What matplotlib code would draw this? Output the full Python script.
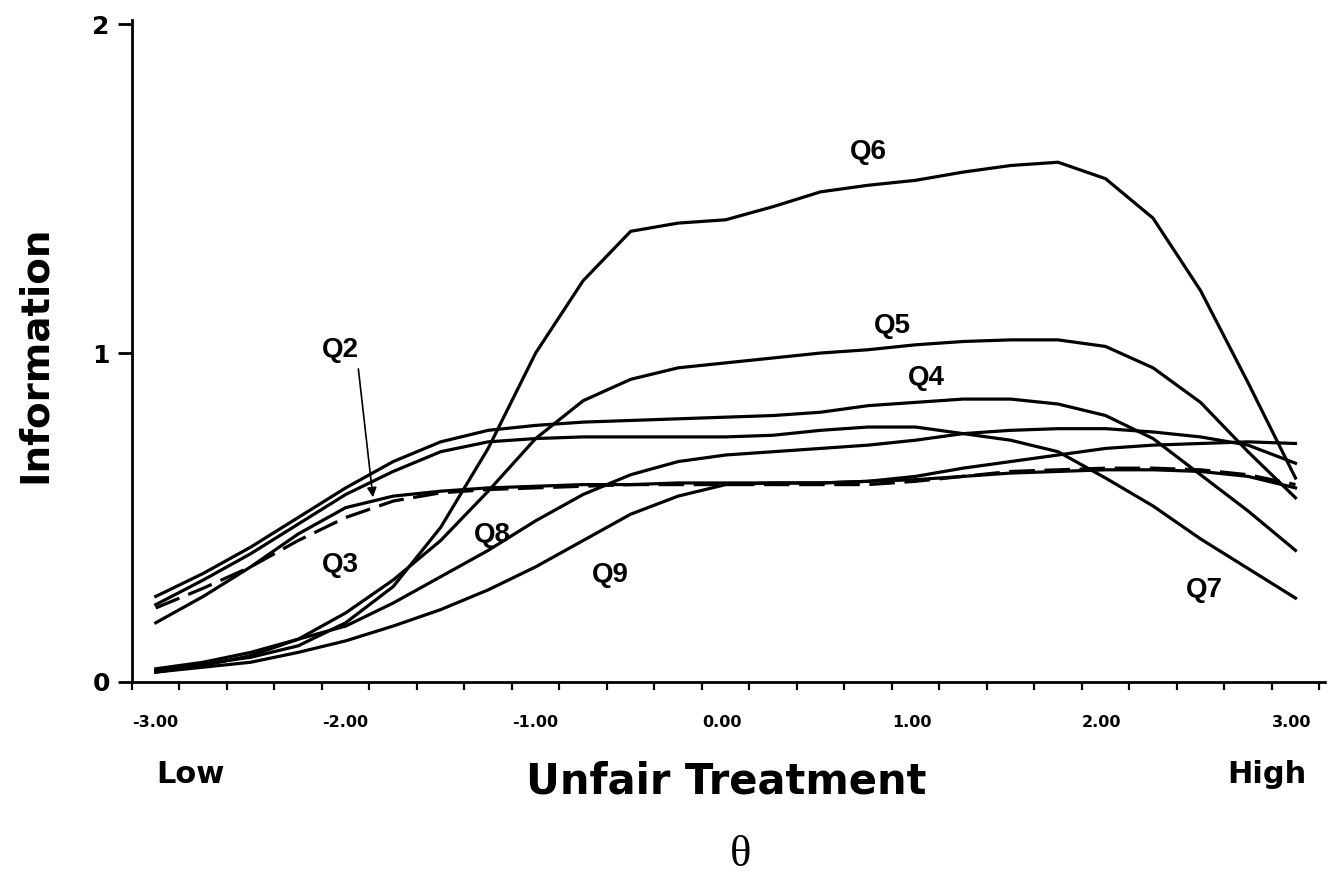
import matplotlib
matplotlib.use("Agg")
import matplotlib.pyplot as plt
from matplotlib.ticker import MultipleLocator, FixedLocator

theta = [-2.875, -2.625, -2.375, -2.125, -1.875, -1.625, -1.375, -1.125, -0.875,
         -0.625, -0.375, -0.125, 0.125, 0.375, 0.625, 0.875, 1.125, 1.375, 1.625,
         1.875, 2.125, 2.375, 2.625, 2.875, 3.125]

q2 = [0.18, 0.26, 0.35, 0.45, 0.53, 0.565, 0.58, 0.59, 0.595, 0.60, 0.60, 0.605, 0.605,
      0.605, 0.605, 0.61, 0.615, 0.625, 0.635, 0.64, 0.645, 0.645, 0.64, 0.625, 0.59]
q3 = [0.225, 0.285, 0.35, 0.43, 0.50, 0.55, 0.575, 0.585, 0.59, 0.595, 0.60, 0.60, 0.60,
      0.60, 0.60, 0.60, 0.61, 0.625, 0.64, 0.645, 0.65, 0.65, 0.645, 0.63, 0.60]
q4 = [0.26, 0.33, 0.41, 0.50, 0.59, 0.67, 0.73, 0.765, 0.78, 0.79, 0.795, 0.80, 0.805,
      0.81, 0.82, 0.84, 0.85, 0.86, 0.86, 0.845, 0.81, 0.74, 0.63, 0.52, 0.40]
q5 = [0.03, 0.05, 0.08, 0.13, 0.21, 0.31, 0.43, 0.58, 0.74, 0.855, 0.92, 0.955, 0.97,
      0.985, 1.0, 1.01, 1.025, 1.035, 1.04, 1.04, 1.02, 0.955, 0.85, 0.70, 0.56]
q6 = [0.035, 0.055, 0.075, 0.11, 0.18, 0.29, 0.47, 0.71, 1.0, 1.22, 1.37, 1.395, 1.405,
      1.445, 1.49, 1.51, 1.525, 1.55, 1.57, 1.58, 1.53, 1.41, 1.19, 0.91, 0.62]
q7 = [0.235, 0.31, 0.39, 0.48, 0.57, 0.64, 0.70, 0.73, 0.74, 0.745, 0.745, 0.745, 0.745,
      0.75, 0.765, 0.775, 0.775, 0.755, 0.735, 0.70, 0.62, 0.535, 0.435, 0.345, 0.255]
q8 = [0.04, 0.06, 0.09, 0.13, 0.17, 0.24, 0.32, 0.40, 0.49, 0.57, 0.63, 0.67, 0.69,
      0.70, 0.71, 0.72, 0.735, 0.755, 0.765, 0.77, 0.77, 0.76, 0.745, 0.72, 0.665]
q9 = [0.03, 0.045, 0.06, 0.09, 0.125, 0.17, 0.22, 0.28, 0.35, 0.43, 0.51, 0.565, 0.60,
      0.605, 0.605, 0.61, 0.625, 0.65, 0.67, 0.69, 0.71, 0.72, 0.725, 0.73, 0.725]

x_major = [-3, -2, -1, 0, 1, 2, 3]
x_labels = ["-3.00", "-2.00", "-1.00", "0.00", "1.00", "2.00", "3.00"]
y_major = [0, 1, 2]
y_labels = ["0", "1", "2"]

fig = plt.figure(figsize=(13.32, 8.75), dpi=100)
ax = fig.add_axes([0.0991, 0.2206, 0.8956, 0.7564])

lw = 2.3
for s in (q2, q4, q5, q6, q7, q8, q9):
    ax.plot(theta, s, color="black", lw=lw, solid_joinstyle="round")
ax.plot(theta, q3, color="black", lw=lw, dashes=(8, 3))

ax.set_xlim(-3, 3.28)
ax.set_ylim(0, 2.012)

for sp in ("top", "right"):
    ax.spines[sp].set_visible(False)
for sp in ("left", "bottom"):
    ax.spines[sp].set_linewidth(2)

ax.xaxis.set_major_locator(FixedLocator(x_major))
ax.xaxis.set_minor_locator(MultipleLocator(0.25))
ax.set_xticklabels(x_labels)
ax.tick_params(axis="x", which="both", direction="out", length=6, width=1.6)
ax.tick_params(axis="x", which="major", pad=18)
for t in ax.get_xticklabels():
    t.set_ha("left")
    t.set_fontsize(11.5)
    t.set_fontweight("heavy")
    t.set_family(["Liberation Sans Narrow", "DejaVu Sans"])

ax.set_yticks(y_major)
ax.set_yticklabels(y_labels)
ax.tick_params(axis="y", which="major", direction="out", length=10, width=2, pad=6)
for t in ax.get_yticklabels():
    t.set_fontsize(18)
    t.set_fontweight("heavy")
    t.set_family("DejaVu Sans")

# curve labels
lab_kw = dict(fontsize=20, fontweight="bold", family="Liberation Sans",
              ha="center", va="center")
ax.text(0.874, 1.61, "Q6", **lab_kw)
ax.text(1.005, 1.082, "Q5", **lab_kw)
ax.text(1.184, 0.924, "Q4", **lab_kw)
ax.text(-1.905, 1.009, "Q2", **lab_kw)
ax.text(-1.905, 0.356, "Q3", **lab_kw)
ax.text(-1.105, 0.447, "Q8", **lab_kw)
ax.text(-0.484, 0.325, "Q9", **lab_kw)
ax.text(2.647, 0.28, "Q7", **lab_kw)

ax.annotate("", xy=(-1.73, 0.553), xytext=(-1.81, 0.96),
            arrowprops=dict(arrowstyle="-|>", color="black", lw=1.2,
                            mutation_scale=14))

# axis titles
fig.text(0.026, 0.595, "Information", rotation=90, ha="center", va="center",
         fontsize=28, fontweight="heavy", family="DejaVu Sans")
fig.text(0.545, 0.107, "Unfair Treatment", ha="center", va="center",
         fontsize=30, fontweight="heavy", family="DejaVu Sans")
fig.text(0.143, 0.115, "Low", ha="center", va="center",
         fontsize=22, fontweight="heavy", family="DejaVu Sans")
fig.text(0.951, 0.115, "High", ha="center", va="center",
         fontsize=22, fontweight="heavy", family="DejaVu Sans")
fig.text(0.556, 0.023, "θ", ha="center", va="center",
         fontsize=32, family="Liberation Serif")

fig.savefig("out.png", dpi=100)
